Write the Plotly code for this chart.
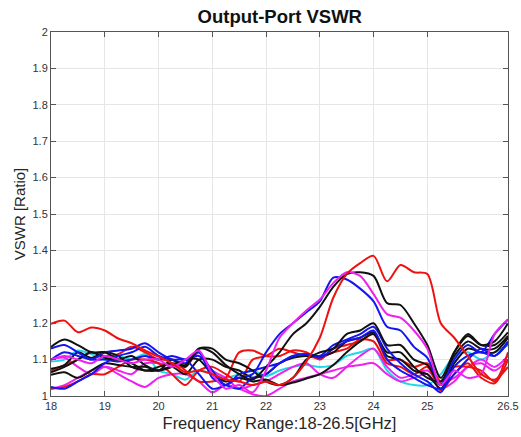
import plotly.graph_objects as go

freq = [18.0, 18.25, 18.5, 18.75, 19.0, 19.25, 19.5, 19.75, 20.0, 20.25, 20.5, 20.75,
        21.0, 21.25, 21.5, 21.75, 22.0, 22.25, 22.5, 22.75, 23.0, 23.25, 23.5, 23.75,
        24.0, 24.25, 24.5, 24.75, 25.0, 25.25, 25.5, 25.75, 26.0, 26.25, 26.5]

red_1 = [1.198, 1.207, 1.175, 1.188, 1.18, 1.158, 1.145, 1.125, 1.108, 1.09, 1.065, 1.07,
         1.06, 1.045, 1.04, 1.03, 1.04, 1.03, 1.05, 1.095, 1.16, 1.27, 1.335, 1.365,
         1.385, 1.315, 1.36, 1.34, 1.335, 1.2, 1.16, 1.11, 1.06, 1.045, 1.08]
red_2 = [1.07, 1.085, 1.1, 1.12, 1.11, 1.115, 1.135, 1.12, 1.1, 1.1, 1.07, 1.04,
         1.04, 1.05, 1.12, 1.125, 1.11, 1.11, 1.125, 1.12, 1.1, 1.13, 1.14, 1.15,
         1.17, 1.1, 1.1, 1.08, 1.09, 1.04, 1.08, 1.08, 1.07, 1.04, 1.12]
red_3 = [1.02, 1.025, 1.04, 1.06, 1.06, 1.08, 1.1, 1.1, 1.09, 1.06, 1.03, 1.07,
         1.08, 1.06, 1.04, 1.1, 1.11, 1.13, 1.12, 1.11, 1.105, 1.12, 1.13, 1.155,
         1.15, 1.09, 1.08, 1.06, 1.08, 1.015, 1.06, 1.09, 1.05, 1.035, 1.1]
black_1 = [1.135, 1.155, 1.14, 1.12, 1.12, 1.1, 1.09, 1.07, 1.08, 1.09, 1.085, 1.13,
           1.12, 1.085, 1.06, 1.045, 1.08, 1.12, 1.17, 1.2, 1.245, 1.3, 1.335, 1.34,
           1.33, 1.255, 1.25, 1.2, 1.14, 1.05, 1.12, 1.165, 1.14, 1.15, 1.2]
black_2 = [1.065, 1.08, 1.1, 1.12, 1.105, 1.1, 1.11, 1.085, 1.07, 1.1, 1.08, 1.13,
           1.13, 1.1, 1.09, 1.07, 1.04, 1.03, 1.05, 1.1, 1.12, 1.13, 1.17, 1.18,
           1.2, 1.14, 1.14, 1.1, 1.085, 1.03, 1.12, 1.17, 1.14, 1.14, 1.175]
black_3 = [1.058, 1.065, 1.05, 1.07, 1.09, 1.085, 1.08, 1.08, 1.07, 1.08, 1.1, 1.1,
           1.06, 1.04, 1.05, 1.04, 1.045, 1.03, 1.037, 1.048, 1.06, 1.085, 1.12, 1.15,
           1.17, 1.11, 1.1, 1.07, 1.06, 1.02, 1.09, 1.13, 1.12, 1.12, 1.16]
black_4 = [1.075, 1.085, 1.12, 1.105, 1.12, 1.11, 1.08, 1.07, 1.07, 1.08, 1.06, 1.1,
           1.1, 1.08, 1.07, 1.05, 1.06, 1.09, 1.105, 1.11, 1.11, 1.12, 1.15, 1.16,
           1.175, 1.12, 1.12, 1.08, 1.05, 1.04, 1.11, 1.15, 1.13, 1.13, 1.165]
blue_1 = [1.13, 1.14, 1.12, 1.1, 1.12, 1.125, 1.13, 1.145, 1.12, 1.1, 1.1, 1.06,
          1.02, 1.03, 1.05, 1.06, 1.12, 1.17, 1.2, 1.23, 1.26, 1.325, 1.32, 1.295,
          1.26, 1.19, 1.18, 1.135, 1.105, 1.03, 1.1, 1.14, 1.12, 1.17, 1.21]
blue_2 = [1.025, 1.02, 1.04, 1.06, 1.09, 1.11, 1.12, 1.135, 1.11, 1.1, 1.09, 1.12,
          1.05, 1.03, 1.02, 1.05, 1.06, 1.09, 1.11, 1.115, 1.11, 1.14, 1.155, 1.17,
          1.19, 1.13, 1.09, 1.06, 1.04, 1.01, 1.08, 1.11, 1.12, 1.11, 1.15]
blue_3 = [1.1, 1.12, 1.11, 1.1, 1.1, 1.095, 1.1, 1.11, 1.1, 1.11, 1.1, 1.11,
          1.07, 1.03, 1.06, 1.07, 1.08, 1.09, 1.11, 1.115, 1.105, 1.13, 1.15, 1.16,
          1.18, 1.1, 1.07, 1.05, 1.03, 1.02, 1.06, 1.1, 1.13, 1.11, 1.145]
magenta_1 = [1.1, 1.11, 1.1, 1.09, 1.11, 1.1, 1.09, 1.1, 1.1, 1.08, 1.1, 1.125,
             1.06, 1.02, 1.03, 1.01, 1.07, 1.16, 1.2, 1.235, 1.265, 1.31, 1.34, 1.33,
             1.28, 1.225, 1.215, 1.18, 1.13, 1.03, 1.07, 1.05, 1.06, 1.17, 1.21]
magenta_2 = [1.1, 1.105, 1.08, 1.06, 1.08, 1.07, 1.06, 1.09, 1.09, 1.085, 1.08, 1.12,
             1.07, 1.05, 1.02, 1.03, 1.04, 1.06, 1.08, 1.09, 1.06, 1.05, 1.08, 1.11,
             1.13, 1.08, 1.05, 1.06, 1.07, 1.035, 1.05, 1.08, 1.1, 1.08, 1.11]
magenta_3 = [1.02, 1.03, 1.05, 1.07, 1.08, 1.06, 1.04, 1.025, 1.05, 1.06, 1.06, 1.04,
             1.01, 1.03, 1.02, 1.005, 1.0, 1.02, 1.04, 1.05, 1.06, 1.07, 1.08, 1.085,
             1.09, 1.06, 1.04, 1.05, 1.06, 1.02, 1.04, 1.08, 1.09, 1.07, 1.1]
cyan_1 = [1.095, 1.1, 1.125, 1.115, 1.1, 1.11, 1.1, 1.115, 1.07, 1.06, 1.045, 1.07,
          1.06, 1.05, 1.06, 1.07, 1.055, 1.07, 1.08, 1.085, 1.08, 1.085, 1.11, 1.12,
          1.13, 1.07, 1.04, 1.03, 1.03, 1.06, 1.11, 1.12, 1.1, 1.12, 1.14]

x_tick_vals = [18, 19, 20, 21, 22, 23, 24, 25, 26.5]
x_tick_text = ["18", "19", "20", "21", "22", "23", "24", "25", "26.5"]
y_tick_vals = [1, 1.1, 1.2, 1.3, 1.4, 1.5, 1.6, 1.7, 1.8, 1.9, 2]
y_tick_text = ["1", "1.1", "1.2", "1.3", "1.4", "1.5", "1.6", "1.7", "1.8", "1.9", "2"]

RED = "#ee1111"
BLACK = "#111111"
BLUE = "#1515f0"
MAGENTA = "#ee22ee"
CYAN = "#22d8e8"

series = [
    (cyan_1, CYAN), (magenta_3, MAGENTA), (magenta_2, MAGENTA),
    (red_3, RED), (red_2, RED), (black_4, BLACK), (black_3, BLACK),
    (blue_3, BLUE), (blue_2, BLUE), (black_2, BLACK),
    (blue_1, BLUE), (black_1, BLACK), (magenta_1, MAGENTA), (red_1, RED),
]

fig = go.Figure()
for vals, col in series:
    fig.add_trace(go.Scatter(x=freq, y=vals, mode="lines",
                             line=dict(color=col, width=2, shape="spline", smoothing=0.8),
                             showlegend=False, hoverinfo="skip"))

FONT = "Liberation Sans, Arial, Helvetica, sans-serif"
fig.update_layout(
    width=521, height=437,
    margin=dict(l=51, r=13, t=32, b=41),
    paper_bgcolor="white", plot_bgcolor="white",
    font=dict(family=FONT, color="#262626"),
    title=dict(text="<b>Output-Port VSWR</b>", x=0.537, xanchor="center",
               y=0.962, yanchor="middle", font=dict(size=18.5, color="#111111", family=FONT)),
)
fig.update_xaxes(
    range=[18, 26.5], tickvals=x_tick_vals, ticktext=x_tick_text,
    showgrid=True, gridcolor="#e6e6e6", gridwidth=1,
    showline=True, linecolor="#555555", linewidth=1, mirror="ticks",
    ticks="inside", ticklen=5, tickcolor="#555555", automargin=False,
    tickfont=dict(size=11, color="#333333"), zeroline=False,
    title=dict(text="Frequency Range:18-26.5[GHz]", standoff=6,
               font=dict(size=16.5, color="#262626")),
)
fig.update_yaxes(
    range=[1, 2], tickvals=y_tick_vals, ticktext=y_tick_text,
    showgrid=True, gridcolor="#e6e6e6", gridwidth=1,
    showline=True, linecolor="#555555", linewidth=1, mirror="ticks",
    ticks="inside", ticklen=5, tickcolor="#555555", automargin=False,
    tickfont=dict(size=11, color="#333333"), zeroline=False,
    title=dict(text="VSWR [Ratio]", standoff=3, font=dict(size=15, color="#262626")),
)

fig.write_html("out.html", config={"displayModeBar": False},
               post_script="document.body.style.margin='0';document.body.style.padding='0';")
